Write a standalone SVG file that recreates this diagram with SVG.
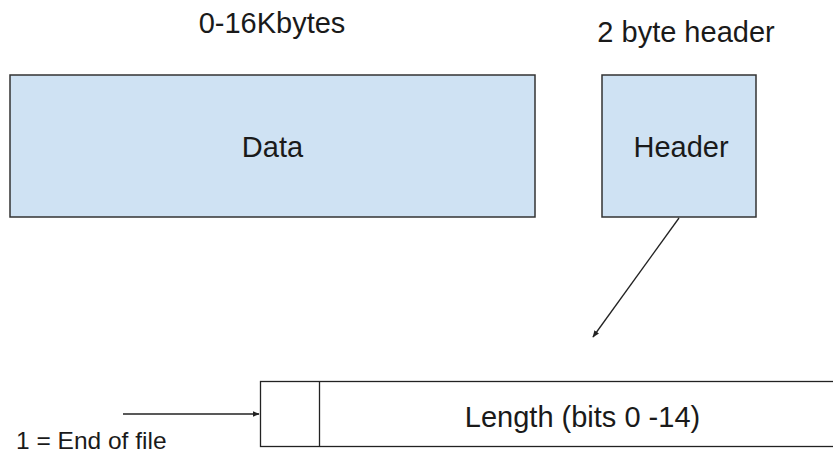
<svg xmlns="http://www.w3.org/2000/svg" width="833" height="454" viewBox="0 0 833 454">
<style>
text{font-family:"Liberation Sans",Arial,sans-serif;fill:#1a1a1a}
.lbl{font-size:29px;text-anchor:middle}
.box{fill:#cfe2f3;stroke:#333;stroke-width:1.5}
.cell{fill:#fff;stroke:#222;stroke-width:1.3}
.conn{stroke:#222;stroke-width:1.3;fill:none}
</style>
<defs>
<marker id="ah" viewBox="0 0 10 10" refX="9" refY="5" markerWidth="7" markerHeight="7" markerUnits="userSpaceOnUse" orient="auto">
<path d="M0,1 L10,5 L0,9 Z" fill="#222"/>
</marker>
</defs>
<rect width="833" height="454" fill="#fff"/>
<text class="lbl" x="272" y="33">0-16Kbytes</text>
<text class="lbl" x="686" y="42">2 byte header</text>
<g id="data"><rect class="box" x="10" y="75" width="525" height="142"/><text class="lbl" x="272.5" y="157">Data</text></g>
<g id="header"><rect class="box" x="602" y="75" width="154" height="142"/><text class="lbl" x="681" y="157">Header</text></g>
<g id="field">
<rect class="cell" x="260.5" y="381.5" width="590" height="65"/>
<line class="cell" x1="319.5" y1="381.5" x2="319.5" y2="446.5"/>
<text class="lbl" x="582.5" y="427">Length (bits 0 -14)</text>
</g>
<text x="16" y="449" style="font-size:24.5px">1 = End of file</text>
<g id="connectors">
<line class="conn" x1="679" y1="218" x2="593" y2="337" marker-end="url(#ah)"/>
<line class="conn" x1="123" y1="414" x2="259" y2="414" marker-end="url(#ah)"/>
</g>
</svg>
